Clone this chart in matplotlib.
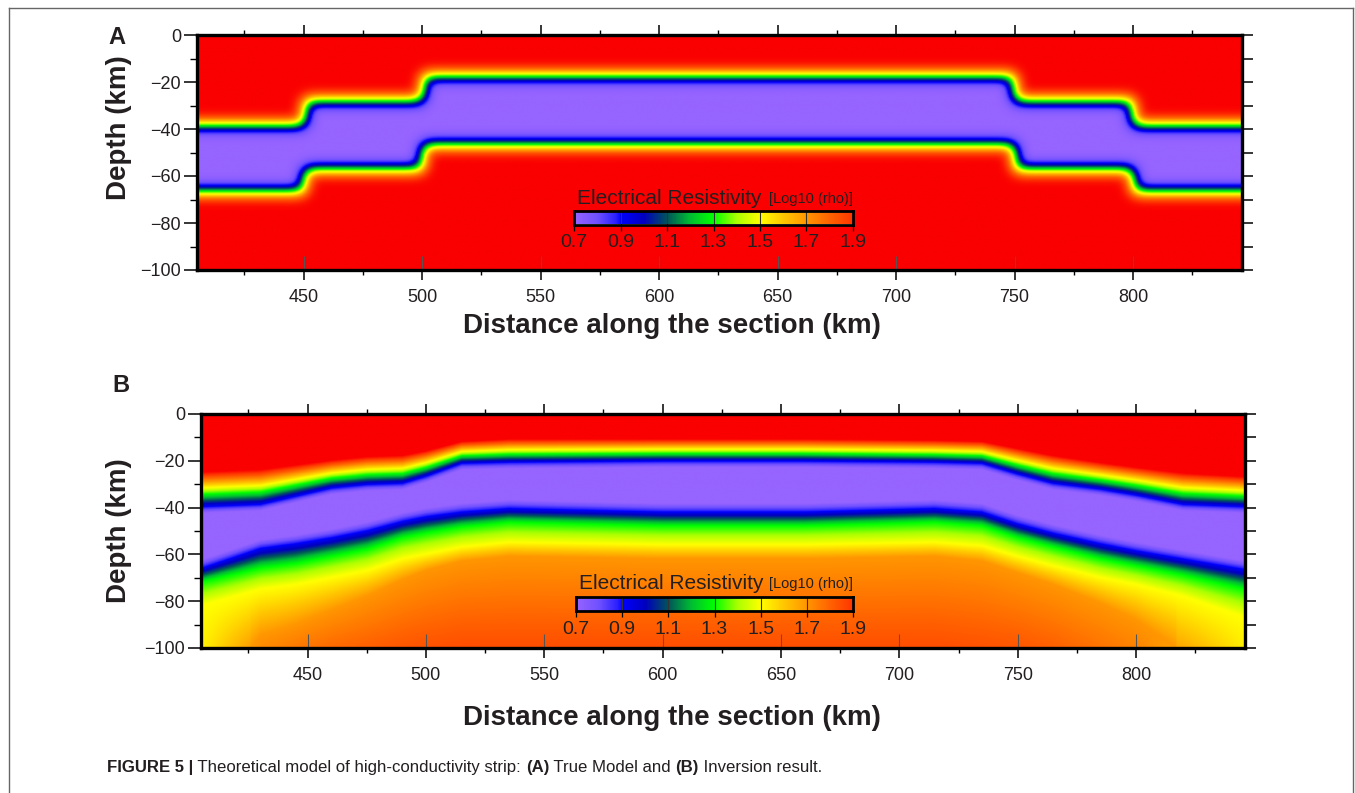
import numpy as np
import matplotlib
matplotlib.use('Agg')
import matplotlib.pyplot as plt
from matplotlib.colors import LinearSegmentedColormap, Normalize
from matplotlib.lines import Line2D
from matplotlib.ticker import MultipleLocator, FixedLocator

plt.rcParams['font.family'] = ['Liberation Sans', 'DejaVu Sans']

# ------------------------------------------------------------------ data
x_range = [405, 846]          # km along section
depth_max = 100               # km
x_ticks = [450, 500, 550, 600, 650, 700, 750, 800]
y_ticks = [0, -20, -40, -60, -80, -100]
cbar_ticks = [0.7, 0.9, 1.1, 1.3, 1.5, 1.7, 1.9]

# Panel A: true model, a conductive strip with steps
A_step_x = [450, 500, 750, 800]
A_top = [38, 27.5, 17, 27.5, 38]      # depth of strip top (km)
A_bot = [67, 57.5, 47, 57.5, 67]      # depth of strip bottom (km)
A_rho_layer = 0.7
A_rho_host = 2.0

# Panel B: inversion result, contour depths read per column
B_x    = [405, 430, 445, 460, 475, 490, 500, 515, 535, 600, 660, 715, 735, 750, 765, 785, 800, 820, 846]
B_zred = [25, 24, 22, 20, 18.5, 18, 16, 12, 11, 11, 11, 11.5, 12, 15, 18, 21, 23, 25.5, 27]
B_ztop = [40, 39, 35.5, 32, 30.5, 30, 27, 21.5, 21, 20.5, 20.5, 21, 21.5, 26, 30, 32.5, 35, 39, 40]
B_zbot = [66, 57.5, 55.5, 53, 50, 46, 44, 42, 40.5, 42, 42, 40.5, 42, 47, 51, 55.5, 58.5, 62, 66.5]
B_zg   = [72, 66, 64, 61, 58, 53, 51, 48.5, 46.5, 48, 48, 46.5, 48, 53, 57, 62, 65, 69, 75]
B_zy   = [82, 75, 73, 70, 67, 62, 60, 57, 55, 56, 56, 55, 56.5, 61, 65, 70, 73, 78, 87]
B_zo   = [125, 95, 90, 84, 78, 71, 67, 63, 61, 62, 62, 61, 63, 68, 73, 81, 88, 102, 130]
B_v100 = [1.52, 1.72, 1.76, 1.79, 1.81, 1.83, 1.84, 1.85, 1.85, 1.85, 1.85, 1.85, 1.84, 1.83, 1.81, 1.77, 1.74, 1.66, 1.53]
B_rho_host = 2.0
B_rho_layer = 0.7

# colour scale of log10(rho)
cmap_vals = [0.70, 0.80, 0.88, 0.90, 1.00, 1.10, 1.20, 1.30, 1.40, 1.50, 1.60, 1.70, 1.80, 1.90, 2.00]
cmap_cols = ['#9664ff', '#6e50ff', '#281eff', '#0000ff', '#0000be', '#00555a', '#00be32', '#00ff00',
             '#aaff00', '#ffff00', '#ffc800', '#ff9600', '#ff6400', '#ff3700', '#fa0000']

# ------------------------------------------------------------------ fields
vmin, vmax = cmap_vals[0], cmap_vals[-1]
cmap = LinearSegmentedColormap.from_list(
    'rho', [((v - vmin) / (vmax - vmin), c) for v, c in zip(cmap_vals, cmap_cols)], N=512)
norm = Normalize(vmin, vmax)

dx, dz = 0.5, 0.25
xf = np.arange(x_range[0], x_range[1] + 1e-9, dx)
zf = np.arange(0, depth_max + 1e-9, dz)


def blur1d(arr, sigma, axis):
    r = int(3 * sigma)
    k = np.exp(-0.5 * (np.arange(-r, r + 1) / sigma) ** 2)
    k /= k.sum()
    pad = [(0, 0)] * arr.ndim
    pad[axis] = (r, r)
    a = np.pad(arr, pad, mode='edge')
    n = arr.shape[axis]
    out = np.zeros_like(arr)
    for i, w in enumerate(k):
        out += w * np.take(a, np.arange(i, i + n), axis=axis)
    return out


# Panel A field
reg = np.searchsorted(A_step_x, xf)
topA = np.array(A_top)[reg]
botA = np.array(A_bot)[reg]
inside = ((zf[:, None] > topA[None, :]) & (zf[:, None] < botA[None, :])).astype(float)
inside = blur1d(inside, 3.0 / dz, 0)
inside = blur1d(inside, 3.0 / dx, 1)
fieldA = A_rho_host + (A_rho_layer - A_rho_host) * inside

# Panel B field
cols = {}
for name, arr in [('zred', B_zred), ('ztop', B_ztop), ('zbot', B_zbot), ('zg', B_zg),
                  ('zy', B_zy), ('zo', B_zo), ('v100', B_v100)]:
    cols[name] = np.interp(xf, B_x, arr)
fieldB = np.zeros((zf.size, xf.size))
for j in range(xf.size):
    d = np.array([0, cols['zred'][j], cols['ztop'][j], cols['ztop'][j] + 2.5, cols['zbot'][j] - 3.5,
                  cols['zbot'][j], cols['zg'][j], cols['zy'][j], cols['zo'][j], depth_max])
    v = np.array([B_rho_host, B_rho_host, 0.9, B_rho_layer, B_rho_layer, 0.9, 1.3, 1.5, 1.7, cols['v100'][j]])
    o = np.argsort(d, kind='stable')
    fieldB[:, j] = np.interp(zf, d[o], v[o])

# ------------------------------------------------------------------ figure
W, H = 1355, 793
fig = plt.figure(figsize=(W / 100, H / 100), dpi=100)
txt = '#231f20'


def px_axes(l, t, r, b):
    return fig.add_axes([l / W, 1 - b / H, (r - l) / W, (b - t) / H])


def style_axes(ax):
    ax.set_xlim(*x_range)
    ax.set_ylim(-depth_max, 0)
    ax.xaxis.set_major_locator(FixedLocator(x_ticks))
    ax.xaxis.set_minor_locator(MultipleLocator(25))
    ax.yaxis.set_major_locator(FixedLocator(y_ticks))
    ax.yaxis.set_minor_locator(MultipleLocator(10))
    ax.tick_params(axis='x', which='major', direction='out', length=7.5, width=1.1, top=True,
                   bottom=True, labelsize=13, pad=6, labelcolor=txt)
    ax.tick_params(axis='x', which='minor', direction='out', length=3.8, width=1.0, top=True, bottom=True)
    ax.tick_params(axis='y', which='major', direction='out', length=9.5, width=1.1, left=True,
                   right=False, labelsize=13, pad=2, labelcolor=txt)
    ax.tick_params(axis='y', which='minor', direction='out', length=5, width=1.0, left=True, right=False)
    for s in ax.spines.values():
        s.set_linewidth(2.4)
        s.set_color('black')
    sec = ax.secondary_yaxis('right')
    sec.set_yticks(np.arange(-100, 1, 10))
    sec.tick_params(direction='out', length=8, width=1.1, labelright=False)
    sec.spines['right'].set_visible(False)
    secb = ax.secondary_xaxis('bottom')
    secb.set_xticks(x_ticks)
    secb.tick_params(direction='in', length=10, width=0.8, color='#555555', labelbottom=False)
    secb.spines['bottom'].set_visible(False)


def colorbar(l, t, r, b, title_base):
    cax = px_axes(l, t, r, b)
    grad = np.linspace(cbar_ticks[0], cbar_ticks[-1], 400)[None, :]
    cax.imshow(grad, extent=[cbar_ticks[0], cbar_ticks[-1], 0, 1], aspect='auto', cmap=cmap,
               norm=norm, interpolation='bilinear')
    cax.set_xlim(cbar_ticks[0], cbar_ticks[-1])
    cax.set_ylim(0, 1)
    cax.set_xticks(cbar_ticks)
    cax.set_xticklabels([f'{v:.1f}' for v in cbar_ticks])
    cax.set_yticks([])
    cax.grid(axis='x', color='#333333', linewidth=0.8)
    cax.tick_params(axis='x', direction='out', length=4, width=0.9, labelsize=14, pad=3, labelcolor=txt)
    for s in cax.spines.values():
        s.set_linewidth(2.0)
        s.set_color('black')
    fig.text((l + 3) / W, 1 - title_base / H, 'Electrical Resistivity',
             fontsize=15, color=txt, ha='left', va='baseline')
    fig.text(r / W, 1 - (title_base - 1) / H, '[Log10 (rho)]', fontsize=10.5, color=txt,
             ha='right', va='baseline')


# Panel A
axA = px_axes(197, 35, 1242, 270)
axA.imshow(fieldA, extent=[x_range[0], x_range[1], -depth_max, 0], origin='upper', aspect='auto',
           cmap=cmap, norm=norm, interpolation='bilinear')
style_axes(axA)
colorbar(574, 210.5, 853, 224.5, 204)

# Panel B
axB = px_axes(201, 414, 1245, 648)
axB.imshow(fieldB, extent=[x_range[0], x_range[1], -depth_max, 0], origin='upper', aspect='auto',
           cmap=cmap, norm=norm, interpolation='bilinear')
style_axes(axB)
colorbar(576, 597, 853, 611, 589)

# labels
fig.text(117 / W, 1 - 37 / H, 'A', fontsize=17, fontweight='bold', color=txt, ha='center', va='center')
fig.text(121 / W, 1 - 386 / H, 'B', fontsize=17, fontweight='bold', color=txt, ha='center', va='center')
for yc in (128, 531):
    fig.text(119 / W, 1 - yc / H, 'Depth (km)', fontsize=20, fontweight='bold', color=txt,
             rotation=90, ha='center', va='center')
for yc in (326, 718):
    fig.text(672 / W, 1 - yc / H, 'Distance along the section (km)', fontsize=20, fontweight='bold',
             color=txt, ha='center', va='center')

# caption
renderer = fig.canvas.get_renderer()
pieces = [('FIGURE 5 |', 'bold'), (' Theoretical model of high-conductivity strip: ', 'normal'),
          ('(A)', 'bold'), (' True Model and ', 'normal'), ('(B)', 'bold'), (' Inversion result.', 'normal')]
xc = 107 / W
for s, w in pieces:
    t = fig.text(xc, 1 - 772 / H, s, fontsize=12.1, fontweight=w, color=txt, ha='left', va='baseline')
    xc += t.get_window_extent(renderer).width / W

# page frame
fc = '#666666'
fig.add_artist(Line2D([9 / W, 9 / W], [0, 1 - 8 / H], transform=fig.transFigure, color=fc, lw=1))
fig.add_artist(Line2D([9 / W, 1353 / W], [1 - 8 / H, 1 - 8 / H], transform=fig.transFigure, color=fc, lw=1))
fig.add_artist(Line2D([1353 / W, 1353 / W], [0, 1 - 8 / H], transform=fig.transFigure, color=fc, lw=1))

fig.savefig('out.png', dpi=100)
